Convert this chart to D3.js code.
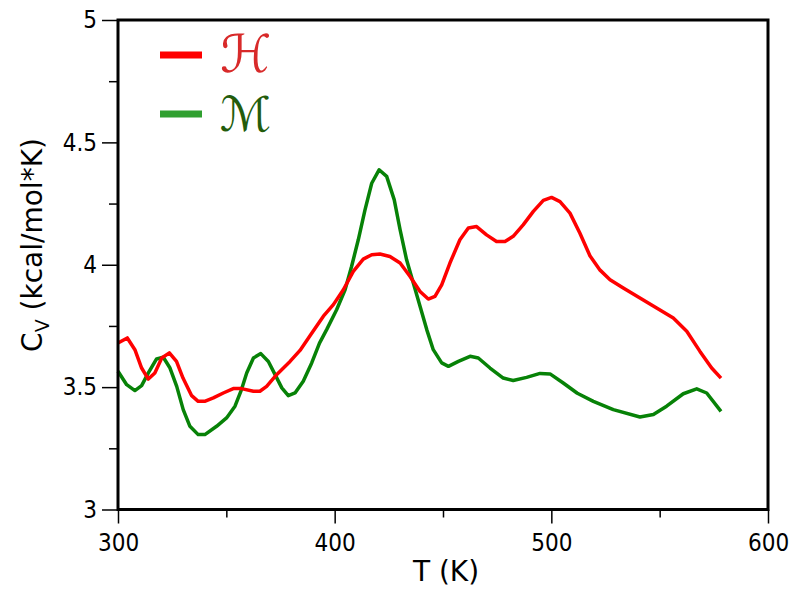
<!DOCTYPE html>
<html>
<head>
<meta charset="utf-8">
<script src="https://cdn.jsdelivr.net/npm/d3@7"></script>
<style>
  body { margin: 0; background: #fff; }
  svg { display: block; }
</style>
</head>
<body>
<svg id="chart" width="800" height="593"></svg>
<script>
// ---- data ----
const xMajorTicks = [300, 400, 500, 600];
const xMinorTicks = [350, 450, 550];
const yMajorTicks = [3, 3.5, 4, 4.5, 5];
const yMinorTicks = [3.25, 3.75, 4.25, 4.75];

const seriesNames = ["\u210B", "\u2133"];

const tempH = [300, 304.3, 307.8, 310.9, 314, 317, 320.2, 323.7, 327, 330, 334, 337, 340, 344, 348.6, 353.2, 357, 362.5, 365.5, 368.6, 373.2, 379.4, 384, 389.4, 394.8, 399.4, 404, 408.6, 413.2, 417.1, 420.9, 425.5, 430.2, 434.8, 439.4, 443.2, 446.3, 449.4, 453.2, 457.8, 461.7, 465.5, 470.1, 474.7, 478.6, 482.4, 487, 491.7, 496.3, 500.1, 504, 508.6, 513.2, 517.8, 522.5, 527.1, 533.2, 540.9, 548.6, 556.3, 562.5, 568.6, 574, 578.3];
const cvH = [3.680, 3.701, 3.653, 3.578, 3.533, 3.558, 3.619, 3.640, 3.605, 3.537, 3.465, 3.442, 3.442, 3.456, 3.476, 3.494, 3.494, 3.483, 3.483, 3.503, 3.551, 3.605, 3.650, 3.720, 3.790, 3.837, 3.898, 3.973, 4.023, 4.041, 4.044, 4.034, 4.007, 3.952, 3.891, 3.860, 3.871, 3.918, 4.007, 4.102, 4.150, 4.156, 4.122, 4.095, 4.095, 4.116, 4.163, 4.218, 4.263, 4.275, 4.258, 4.211, 4.129, 4.037, 3.978, 3.939, 3.905, 3.864, 3.823, 3.782, 3.728, 3.646, 3.578, 3.537];

const tempM = [300, 304, 307.8, 310.9, 314, 317.8, 320.9, 324, 327.1, 330.1, 333.2, 337, 340.1, 345.5, 350.1, 354, 357, 359.4, 362.5, 365.9, 369.4, 372.5, 375.6, 378.6, 381.7, 385.5, 389.4, 393, 396.3, 400.9, 404.8, 407.8, 410.9, 414, 417.1, 420.5, 424, 427.5, 430.2, 433.2, 436.3, 439.4, 442.5, 445.5, 449.4, 452.5, 457.1, 462.5, 466.3, 471.7, 477.8, 482.4, 488.6, 494.8, 499.4, 505.5, 512, 519.4, 528.6, 540.9, 547.1, 553.2, 560.9, 567.1, 571.7, 578.3];
const cvM = [3.565, 3.510, 3.486, 3.506, 3.558, 3.615, 3.622, 3.578, 3.503, 3.408, 3.340, 3.306, 3.306, 3.340, 3.374, 3.422, 3.490, 3.558, 3.619, 3.637, 3.605, 3.551, 3.497, 3.465, 3.476, 3.524, 3.599, 3.680, 3.735, 3.816, 3.898, 3.993, 4.102, 4.224, 4.333, 4.388, 4.361, 4.265, 4.143, 4.020, 3.925, 3.830, 3.735, 3.653, 3.599, 3.585, 3.605, 3.626, 3.619, 3.578, 3.537, 3.527, 3.540, 3.556, 3.554, 3.517, 3.475, 3.442, 3.408, 3.378, 3.388, 3.422, 3.473, 3.493, 3.476, 3.401];

// ---- layout ----
const L = 118, R = 768, T = 20, B = 509.5;
const svg = d3.select("#chart");
const x = d3.scaleLinear().domain([300, 600]).range([L, R]);
const y = d3.scaleLinear().domain([3, 5]).range([B, T]);

const tickFont = "'DejaVu Sans Condensed', 'DejaVu Sans', sans-serif";

function styleAxis(g) {
  g.select(".domain").remove();
  g.selectAll(".tick line").attr("stroke", "#000").attr("stroke-width", 1.5);
  g.selectAll(".tick text").attr("fill", "#000")
    .style("font-family", tickFont).style("font-stretch", "condensed").style("font-size", "24px");
}

// bottom axis
svg.append("g").attr("transform", `translate(0,${B})`)
  .call(d3.axisBottom(x).tickValues(xMajorTicks).tickSize(14).tickPadding(10).tickFormat(d3.format("d")))
  .call(styleAxis);
svg.append("g").attr("transform", `translate(0,${B})`)
  .call(d3.axisBottom(x).tickValues(xMinorTicks).tickSize(8).tickFormat(""))
  .call(styleAxis);

// left axis
svg.append("g").attr("transform", `translate(${L},0)`)
  .call(d3.axisLeft(y).tickValues(yMajorTicks).tickSize(16).tickPadding(5).tickFormat(d => d3.format("")(d)))
  .call(styleAxis);
svg.append("g").attr("transform", `translate(${L},0)`)
  .call(d3.axisLeft(y).tickValues(yMinorTicks).tickSize(9).tickFormat(""))
  .call(styleAxis);

// lines
const line = d3.line().x(d => x(d[0])).y(d => y(d[1])).curve(d3.curveLinear);
const dataH = tempH.map((t, i) => [t, cvH[i]]);
const dataM = tempM.map((t, i) => [t, cvM[i]]);

svg.append("path").datum(dataM).attr("d", line)
  .attr("fill", "none").attr("stroke", "#078207").attr("stroke-width", 3.5).attr("stroke-linejoin", "round");
svg.append("path").datum(dataH).attr("d", line)
  .attr("fill", "none").attr("stroke", "#ff0000").attr("stroke-width", 3.5).attr("stroke-linejoin", "round");

// frame
svg.append("rect").attr("x", L).attr("y", T).attr("width", R - L).attr("height", B - T)
  .attr("fill", "none").attr("stroke", "#000").attr("stroke-width", 3);

// legend
const legendY = [55, 114];
const legendLine = ["#ff0000", "#30a030"];
const legendText = ["#d82a2a", "#235c0c"];
const legendSize = [52, 48];
seriesNames.forEach((name, i) => {
  svg.append("line").attr("x1", 160).attr("x2", 202).attr("y1", legendY[i]).attr("y2", legendY[i])
    .attr("stroke", legendLine[i]).attr("stroke-width", 7);
  svg.append("text").attr("x", 220).attr("y", legendY[i] + 17)
    .attr("fill", legendText[i])
    .style("font-family", "'DejaVu Serif', 'DejaVu Sans', serif")
    .style("font-style", "italic")
    .style("font-size", legendSize[i] + "px")
    .text(name);
});

// axis titles
svg.append("text").attr("x", 446).attr("y", 581).attr("text-anchor", "middle")
  .style("font-family", "'DejaVu Sans', sans-serif").style("font-size", "28px").attr("fill", "#000")
  .text("T (K)");

const yl = svg.append("text").attr("transform", "translate(42,245) rotate(-90)")
  .attr("text-anchor", "middle")
  .style("font-family", "'DejaVu Sans', sans-serif").style("font-size", "28px").attr("fill", "#000");
yl.append("tspan").text("C");
yl.append("tspan").attr("dy", 7).style("font-size", "19px").text("V");
yl.append("tspan").attr("dy", -7).text(" (kcal/mol*K)");
</script>
</body>
</html>
